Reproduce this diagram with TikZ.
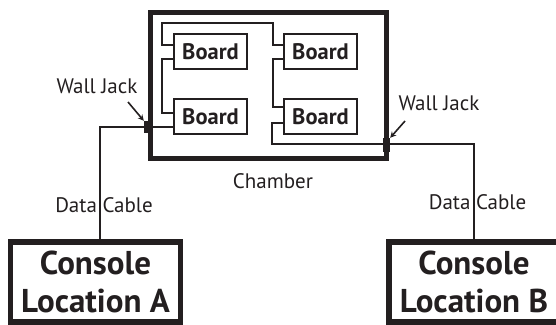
\documentclass[tikz,border=0pt]{standalone}
\usepackage{fontspec}
\setmainfont{PT Sans}
\usetikzlibrary{arrows.meta}
\definecolor{ink}{HTML}{231F20}
\begin{document}
\begin{tikzpicture}[x=1pt,y=-1pt,
  every node/.style={text=ink},
  chamber/.style={draw=ink, line width=5pt, minimum width=236pt, minimum height=146pt, inner sep=0pt},
  board/.style={draw=ink, line width=2.5pt, minimum width=73pt, minimum height=35pt, inner sep=0pt, font=\fontsize{22.5}{24}\selectfont\bfseries},
  console/.style={draw=ink, line width=5.5pt, minimum width=170pt, minimum height=80pt, inner sep=0pt, align=center, font=\fontsize{33}{38}\selectfont\bfseries},
  wire/.style={draw=ink, line width=2pt},
  cable/.style={draw=ink, line width=2.2pt},
  jack/.style={fill=ink, inner sep=0pt},
  lbl/.style={font=\fontsize{21}{23}\selectfont, inner sep=0pt},
  ptr/.style={draw=ink, line width=1.6pt, -{Stealth[length=6pt,width=6pt]}}
]
\useasboundingbox (0,0) rectangle (556,324);
\clip (0,0) rectangle (556,324);

\node[chamber] (ch) at (268,85) {};
\node[board] (b1) at (210.5,51.5) {Board};
\node[board] (b2) at (320.5,51.5) {Board};
\node[board] (b3) at (210.5,116.5) {Board};
\node[board] (b4) at (320.5,116.5) {Board};

\node[jack, minimum width=9pt, minimum height=12pt] (ja) at (148.5,127) {};
\node[jack, minimum width=7pt, minimum height=14pt] (jb) at (386.5,145) {};

\node[console] (ca) at (95.5,282) {Console\\Location A};
\node[console] (cb) at (474,282) {Console\\Location B};

% internal wiring
\coordinate (w1) at (162,45);
\coordinate (w2) at (162,59);
\coordinate (w3) at (273,59);
\coordinate (w4) at (271.5,123);
\draw[wire] (b1.west |- w1) -- (w1) -- (162,23) -- (273,23) -- (273,45) -- (b2.west |- 273,45);
\draw[wire] (b1.west |- w2) -- (w2) -- (162,113) -- (b3.west |- 162,113);
\draw[wire] (b2.west |- w3) -- (w3) -- (273,107) -- (b4.west |- 273,107);
\draw[wire] (b4.west |- w4) -- (w4) -- (271.5,144) -- (jb.center |- 0,144);

% cables
\coordinate (cA) at (100,127);
\coordinate (cB) at (474,144);
\draw[cable] (b3.west |- cA) -- (ja.center |- cA) -- (cA) -- (ca.north -| cA);
\draw[cable] (jb.center |- cB) -- (cB) -- (cb.north -| cB);

% labels
\node[lbl, anchor=base] (lja) at (97,93) {Wall Jack};
\node[lbl, anchor=base] (ljb) at (439,110) {Wall Jack};
\node[lbl, anchor=base] (lch) at (273,188) {Chamber};
\node[lbl, anchor=base] (ldA) at (104,212) {Data Cable};
\node[lbl, anchor=base] (ldB) at (477.5,209) {Data Cable};

\coordinate (pa) at (128,102);
\coordinate (pb) at (405,121);
\draw[ptr] (pa) -- (ja.north west);
\draw[ptr] (pb) -- (jb.north east);
\end{tikzpicture}
\end{document}
